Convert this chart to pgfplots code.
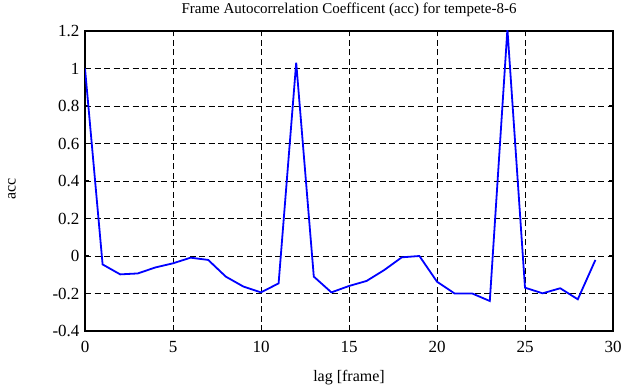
\documentclass[border=0pt]{standalone}
\usepackage{fontspec}
\setmainfont{Liberation Serif}
\usepackage{pgfplots}
\pgfplotsset{compat=1.18}
\usetikzlibrary{calc}
\begin{document}
\begin{tikzpicture}
\begin{axis}[
  width=528pt, height=300pt, scale only axis,
  xmin=0, xmax=30, ymin=-0.4, ymax=1.2,
  xtick={0,5,...,30},
  ytick={-0.4,-0.2,0,0.2,0.4,0.6,0.8,1,1.2},
  yticklabels={-0.4,-0.2,0,0.2,0.4,0.6,0.8,1,1.2},
  xticklabels={0,5,10,15,20,25,30},
  grid=major,
  major grid style={black, line width=0.8pt, dash pattern=on 6pt off 3.5pt},
  axis line style={black, line width=1.3pt},
  tick style={black, line width=1pt},
  tick align=inside,
  major tick length=4pt,
  ticklabel style={font=\fontsize{17}{19}\selectfont},
  xticklabel style={yshift=-7pt},
  yticklabel style={xshift=-2pt},
  /pgf/number format/assume math mode=true,
  title={Frame Autocorrelation Coefficent (acc) for tempete-8-6},
  title style={font=\fontsize{15}{17}\selectfont, at={(axis description cs:0.5,1)}, anchor=center, yshift=15pt},
  xlabel={lag [frame]},
  ylabel={acc},
  xlabel style={font=\fontsize{16}{18}\selectfont, at={(axis description cs:0.5,0)}, anchor=center, yshift=-47pt},
  ylabel style={font=\fontsize{16}{18}\selectfont, at={(axis description cs:0,0.5)}, anchor=center, yshift=73pt, xshift=-8pt},
  clip=true,
]
\addplot[blue, line width=1.8pt] coordinates {
(0,1.0) (1,-0.045) (2,-0.098) (3,-0.093) (4,-0.061) (5,-0.039) (6,-0.009) (7,-0.021)
(8,-0.11) (9,-0.163) (10,-0.194) (11,-0.146) (12,1.031) (13,-0.11) (14,-0.194)
(15,-0.16) (16,-0.133) (17,-0.075) (18,-0.007) (19,0.0) (20,-0.137) (21,-0.2)
(22,-0.2) (23,-0.24) (24,1.21) (25,-0.169) (26,-0.199) (27,-0.172) (28,-0.231) (29,-0.021)
};
\end{axis}
\pgfresetboundingbox
\path[use as bounding box] ($(current axis.south west)+(-85pt,-56pt)$) rectangle ($(current axis.north east)+(17pt,31pt)$);
\end{tikzpicture}
\end{document}
